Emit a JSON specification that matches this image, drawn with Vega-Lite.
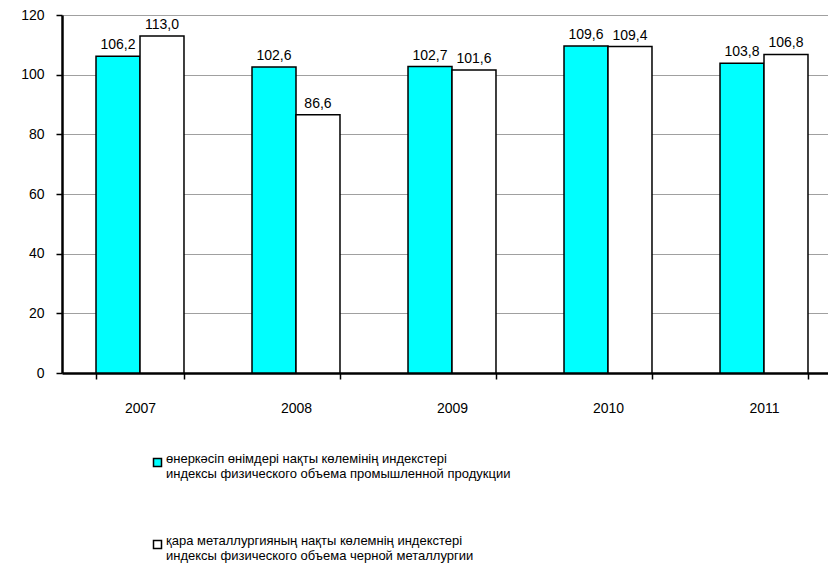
{
  "$schema": "https://vega.github.io/schema/vega-lite/v6.json",
  "width": 766,
  "height": 358,
  "autosize": {"type": "none"},
  "padding": {"left": 62, "top": 15, "right": 0, "bottom": 193},
  "background": "white",
  "config": {
    "locale": {"number": {"decimal": ",", "thousands": " ", "grouping": [3], "currency": ["", ""]}},
    "font": "Liberation Sans",
    "view": {"stroke": null}
  },
  "data": {
    "values": [
      {"year": "2007", "series": "a", "value": 106.2},
      {"year": "2007", "series": "b", "value": 113.0},
      {"year": "2008", "series": "a", "value": 102.6},
      {"year": "2008", "series": "b", "value": 86.6},
      {"year": "2009", "series": "a", "value": 102.7},
      {"year": "2009", "series": "b", "value": 101.6},
      {"year": "2010", "series": "a", "value": 109.6},
      {"year": "2010", "series": "b", "value": 109.4},
      {"year": "2011", "series": "a", "value": 103.8},
      {"year": "2011", "series": "b", "value": 106.8}
    ]
  },
  "encoding": {
    "x": {
      "field": "year", "type": "nominal",
      "scale": {"range": [0, 780], "paddingInner": 0.436, "paddingOuter": 0.218},
      "axis": {
        "title": null, "labelAngle": 0, "labelFontSize": 14, "labelColor": "black",
        "labelPadding": 22, "domainColor": "black", "domainWidth": 2.5,
        "tickColor": "black", "tickWidth": 1.5, "tickSize": 6, "tickBand": "extent"
      }
    },
    "xOffset": {"field": "series", "type": "nominal"},
    "y": {
      "field": "value", "type": "quantitative",
      "scale": {"domain": [0, 120], "nice": false},
      "axis": {
        "title": null, "values": [0, 20, 40, 60, 80, 100, 120],
        "labelFontSize": 14, "labelColor": "black", "labelPadding": 12,
        "domainColor": "black", "domainWidth": 2.5,
        "tickColor": "black", "tickWidth": 1.5, "tickSize": 6,
        "gridColor": "#a0a0a0", "gridWidth": 1.2
      }
    }
  },
  "layer": [
    {
      "mark": {"type": "bar", "stroke": "black", "strokeWidth": 1.5},
      "encoding": {
        "fill": {
          "field": "series", "type": "nominal",
          "scale": {"domain": ["a", "b"], "range": ["#00ffff", "#ffffff"]},
          "legend": {
            "orient": "none", "legendX": 89, "legendY": 441, "title": null,
            "direction": "vertical",
            "labelExpr": "datum.label == 'a' ? ['өнеркәсіп өнімдері нақты көлемінің индекстері', 'индексы физического объема промышленной продукции'] : ['қара металлургияның нақты көлемнің индекстері', 'индексы физического объема черной металлургии']",
            "labelFontSize": 13, "labelColor": "black", "labelLineHeight": 19,
            "labelBaseline": "alphabetic", "labelOffset": 2, "labelLimit": 600,
            "symbolType": "square", "symbolSize": 64, "symbolStrokeColor": "black",
            "symbolStrokeWidth": 1.5, "rowPadding": 53
          }
        }
      }
    },
    {
      "mark": {"type": "text", "dy": -11, "fontSize": 14, "color": "black"},
      "encoding": {
        "text": {"field": "value", "type": "quantitative", "format": ".1f"}
      }
    }
  ]
}
